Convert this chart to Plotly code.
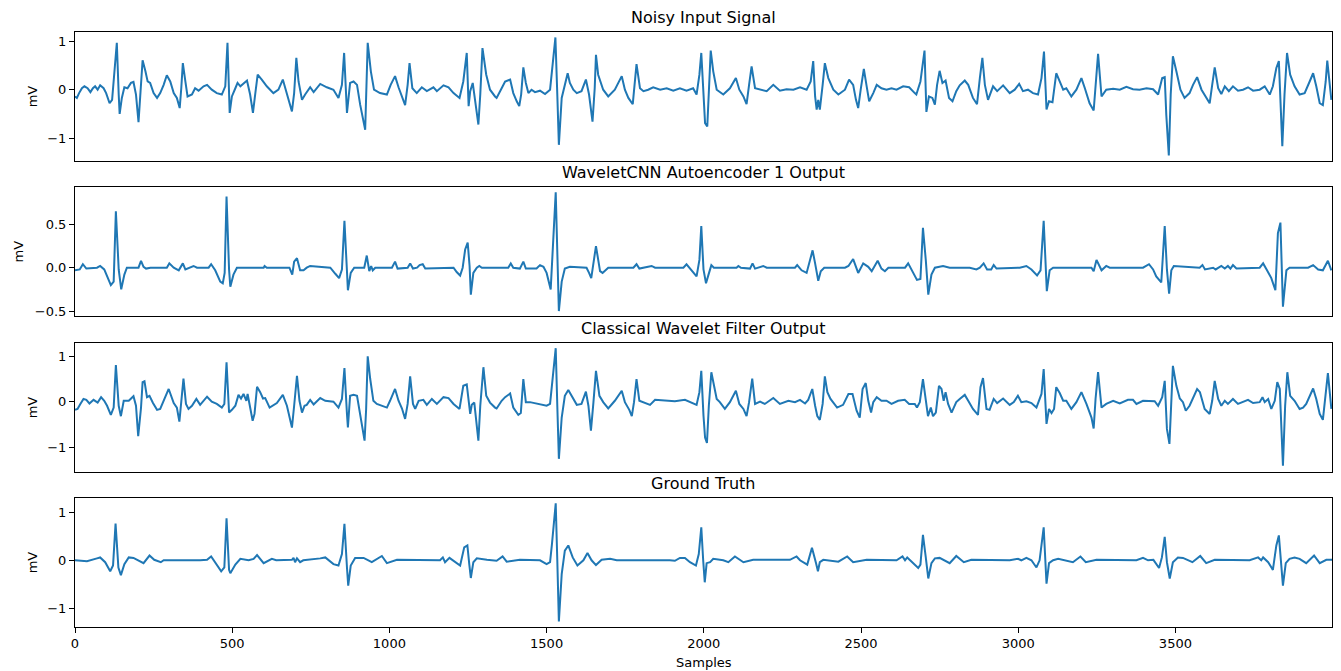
import plotly.graph_objects as go

# ---------------- data: (sample, mV) key points ----------------
noisy_points = [
    (0,-0.14),(6,-0.17),(13,-0.07),(22,0.03),(30,0.07),(40,0.03),(49,-0.05),(57,0.03),(64,0.07),(72,0),(80,0.09),(91,0.03),(99,-0.07),(110,-0.28),(118,-0.21),(125,0.38),(133,0.97),(139,-0.1),(142,-0.5),(149,-0.17),(157,0.05),(167,0.03),(178,0.14),(186,0.16),(194,-0.1),(202,-0.67),(208,-0.1),(215,0.61),(224,0.38),(231,0.17),(239,0.14),(250,-0.07),(261,-0.17),(271,-0.07),(282,0.1),(292,0.3),(303,0.17),(314,-0.07),(324,-0.17),(333,-0.38),(338,0.03),(343,0.55),(351,0.17),(358,-0.14),(372,-0.1),(382,0.03),(393,-0.02),(409,0.07),(420,0.1),(435,0),(451,-0.07),(467,-0.1),(478,0.07),(485,0.97),(492,-0.48),(499,-0.14),(510,0.03),(517,0.14),(526,0.07),(536,0.12),(547,0.19),(557,-0.1),(566,-0.48),(573,-0.1),(581,0.31),(594,0.21),(610,0.07),(631,-0.07),(647,0),(661,0.21),(674,-0.07),(690,-0.45),(697,-0.07),(704,0.66),(711,0.17),(722,-0.21),(732,-0.1),(748,0.05),(759,-0.05),(780,0.12),(801,0.05),(822,0),(838,-0.17),(849,0.1),(856,0.76),(865,-0.48),(875,0.14),(886,0.17),(897,0.1),(907,-0.31),(923,-0.83),(928,0.45),(931,0.97),(941,0.38),(951,0),(970,-0.07),(992,-0.1),(1004,0.1),(1018,0.28),(1029,0.05),(1040,-0.17),(1050,-0.32),(1058,0.1),(1064,0.55),(1073,0.03),(1087,-0.07),(1103,0.05),(1119,-0.03),(1140,0.05),(1151,-0.03),(1172,0.09),(1188,0.05),(1204,-0.07),(1223,-0.17),(1235,0.17),(1246,0.76),(1252,-0.34),(1257,-0.03),(1265,0.14),(1273,-0.24),(1283,-0.72),(1289,-0.1),(1296,0.86),(1308,0.31),(1320,0),(1336,-0.14),
    (1341,-0.17),(1357,0.03),(1368,0.17),(1384,0.21),(1394,-0.07),(1405,-0.24),(1413,-0.34),(1419,-0.1),(1426,0.46),(1434,0.14),(1442,-0.07),(1452,0),(1463,-0.05),(1479,-0.02),(1495,-0.09),(1511,0),(1521,0.59),(1528,1.08),(1534,-0.1),(1539,-1.14),(1548,-0.17),(1558,0.1),(1567,0.34),(1574,0.14),(1585,0),(1596,-0.07),(1611,-0.03),(1625,0.21),(1635,-0.1),(1646,-0.66),(1653,0.03),(1657,0.72),(1664,0.31),(1680,0),(1696,-0.14),(1717,0),(1739,0.28),(1749,0),(1760,-0.17),(1774,-0.3),(1780,0.17),(1786,0.53),(1797,0.03),(1808,-0.03),(1823,0),(1839,0.05),(1861,0),(1882,0.03),(1903,-0.02),(1924,0.03),(1945,-0.02),(1966,0.03),(1977,-0.1),(1986,0.31),(1992,0.76),(1998,-0.1),(2004,-0.69),(2011,-0.76),(2016,-0.1),(2022,0.81),(2030,0.38),(2041,0),(2062,-0.1),(2083,0.03),(2102,0.24),(2113,0),(2126,-0.14),(2136,-0.3),(2144,0.1),(2152,0.48),(2163,0.03),(2179,0),(2200,-0.03),(2221,0.1),(2242,-0.02),(2263,0.01),(2285,0),(2306,0.05),(2327,0),(2340,0.17),(2348,0.59),(2354,-0.14),(2359,-0.41),(2364,-0.21),(2369,-0.41),(2378,0.1),(2385,0.55),(2396,0.24),(2412,0),(2428,-0.1),(2449,0),(2462,0.21),(2475,0.1),(2484,-0.21),(2491,-0.38),(2499,0),(2509,0.43),(2518,0.07),(2526,-0.24),(2539,-0.07),(2550,0.1),(2565,0.03),(2581,0),(2597,0.03),(2613,0),(2634,0.07),(2653,0.05),(2671,-0.07),
    (2676,-0.1),(2689,0.17),(2702,0.81),(2708,-0.46),(2716,-0.14),(2727,-0.17),(2735,-0.31),(2742,0.1),(2750,0.39),(2759,0.14),(2769,0.19),(2780,-0.17),(2791,-0.24),(2803,-0.03),(2814,0.09),(2830,0.19),(2841,0.1),(2856,-0.17),(2869,-0.3),(2878,0.24),(2886,0.66),(2894,0.1),(2904,-0.21),(2920,0.07),(2933,-0.03),(2952,0.09),(2973,-0.07),(2989,0),(3003,0.12),(3015,-0.03),(3031,0),(3047,-0.07),(3063,-0.1),(3074,0.24),(3082,0.79),(3090,-0.41),(3098,-0.24),(3109,-0.26),(3121,0.34),(3132,0.17),(3143,0),(3153,0.03),(3169,-0.14),(3185,0),(3201,0.24),(3212,0.03),(3227,-0.28),(3240,-0.43),(3246,0.1),(3254,0.74),(3265,-0.14),(3280,0),(3302,0.02),(3323,0),(3344,0.06),(3365,0.01),(3386,0),(3408,0.03),(3429,0.01),(3445,-0.1),(3458,0.24),(3466,0.26),(3471,-0.52),(3479,-1.36),(3485,-0.1),(3492,0.69),(3503,0.38),(3516,0),(3529,-0.17),(3545,-0.07),(3556,0.1),(3569,0.26),(3583,0),(3598,-0.17),(3609,-0.28),(3617,0.1),(3625,0.46),(3636,0.03),(3646,-0.09),(3657,0.07),(3670,-0.03),(3683,0.07),(3699,-0.02),(3715,0),(3731,0.05),(3747,-0.02),(3768,0),(3784,0.07),(3800,-0.1),(3810,0.07),(3821,0.45),(3829,0.59),(3834,-0.1),(3840,-1.17),(3847,-0.1),(3855,0.76),(3865,0.31),(3879,0.07),(3895,-0.1),(3911,-0.07),(3927,0.17),(3938,0.34),(3948,0.07),(3959,-0.28),(3969,-0.32),(3978,0.17),(3983,0.6),(3991,0.17),(3996,-0.21),
]

cnn_points = [
    (0,-0.03),(15,-0.02),(25,0.04),(36,-0.01),(70,0),(80,0.02),(93,-0.02),(104,-0.12),(114,-0.2),(123,-0.16),(130,0.65),(139,-0.02),(147,-0.25),(157,-0.08),(165,0),(202,0),(210,0.08),(218,0.01),(226,-0.01),(240,0),(292,0),(300,0.05),(314,0),(330,-0.03),(343,0.05),(351,-0.02),(364,0),(377,0.02),(388,0),(425,0),(433,0.04),(446,-0.03),(462,-0.16),(470,-0.18),(476,-0.06),(482,0.82),(490,-0.02),(494,-0.22),(504,-0.08),(515,0),(600,0),(603,0.02),(610,0),(682,0),(691,-0.08),(697,0.07),(706,0.11),(716,-0.03),(727,-0.03),(737,0),(748,0.02),(812,0),(828,-0.07),(840,-0.12),(849,-0.02),(857,0.54),(865,-0.04),(868,-0.26),(877,-0.06),(888,0),(920,0),(928,0.14),(936,-0.04),(942,0.02),(947,-0.03),(955,0),(1008,0),(1018,0.07),(1026,-0.01),(1058,0),(1066,0.05),(1075,-0.01),(1088,0),(1096,0.03),(1106,0.04),(1114,-0.01),(1204,0),(1214,-0.05),(1225,-0.09),(1233,0),(1241,0.21),(1249,0.29),(1255,0.02),(1259,-0.31),(1267,-0.06),(1278,0),(1286,0.02),(1294,0),(1336,0),
    (1378,0),(1386,0.05),(1394,0),(1415,-0.01),(1426,0.07),(1434,-0.01),(1468,-0.01),(1479,0.03),(1490,0.01),(1500,-0.06),(1513,-0.25),(1529,0.87),(1539,-0.5),(1548,-0.16),(1558,-0.01),(1574,0.01),(1627,0),(1635,-0.06),(1642,-0.12),(1657,0.25),(1670,-0.04),(1678,-0.06),(1696,0),(1776,0),(1786,0.04),(1795,-0.01),(1834,0.02),(1845,0),(1935,0),(1945,0.04),(1961,-0.03),(1977,-0.1),(1986,0.09),(1992,0.48),(1999,-0.02),(2007,-0.18),(2015,-0.08),(2024,0.03),(2032,0),(2104,0),(2110,0.02),(2118,0),(2147,-0.01),(2155,0.05),(2163,-0.01),(2189,0.02),(2200,0),(2290,0),(2297,0.03),(2311,-0.03),(2327,-0.06),(2338,0.11),(2346,0.2),(2354,0.05),(2364,-0.15),(2372,-0.04),(2383,0),(2449,0),(2460,0.02),(2475,0.1),(2491,-0.06),(2507,0.05),(2523,0.01),(2534,-0.04),(2553,0.08),(2565,-0.01),(2576,-0.04),(2587,0),(2640,0),(2650,0.05),(2660,-0.02),(2671,-0.08),
    (2678,-0.14),(2689,-0.13),(2697,0.46),(2706,0.09),(2714,-0.31),(2724,-0.08),(2735,0),(2761,0.02),(2782,0),(2846,0),(2867,-0.02),(2878,0),(2890,0.05),(2901,-0.02),(2914,-0.02),(2922,0.03),(2931,-0.01),(3005,0),(3026,0.02),(3042,-0.02),(3060,-0.09),(3071,-0.03),(3081,0.54),(3091,-0.27),(3100,-0.03),(3111,0),(3233,0),(3240,-0.04),(3249,0.09),(3265,-0.03),(3280,0.02),(3291,0),(3397,0),(3416,0.04),(3429,-0.02),(3439,-0.1),(3455,-0.17),(3466,0.48),(3473,-0.02),(3480,-0.3),(3487,-0.03),(3495,0.02),(3524,0.01),(3577,0),(3586,0.03),(3594,-0.02),(3620,0),(3628,-0.02),(3646,0.02),(3657,-0.01),(3667,0.02),(3675,-0.01),(3683,0.03),(3694,-0.01),(3768,0),(3779,0.05),(3790,-0.02),(3805,-0.12),(3818,-0.26),(3826,0.4),(3834,0.52),(3839,-0.02),(3842,-0.45),(3853,-0.03),(3863,0),(3922,0),(3938,0.03),(3954,-0.02),(3969,-0.03),(3985,0.08),(3996,-0.03),
]

wavelet_points = [
    (0,-0.18),(8,-0.16),(17,-0.05),(27,0.06),(36,0.04),(46,-0.04),(59,0.04),(72,-0.02),(83,0.1),(93,0.02),(102,-0.09),(114,-0.29),(123,-0.13),(130,0.81),(139,-0.09),(146,-0.32),(155,0.02),(171,0.02),(186,0.12),(194,-0.09),(201,-0.76),(210,-0.13),(215,0.43),(221,0.45),(229,0.1),(237,0.13),(248,-0.03),(261,-0.18),(271,-0.16),(298,0.28),(314,-0.03),(324,-0.13),(332,-0.44),(338,0.02),(345,0.51),(353,-0.05),(361,-0.16),(372,-0.09),(386,0.06),(398,-0.07),(420,0.11),(435,0),(451,-0.05),(467,-0.13),(475,-0.05),(482,0.87),(490,-0.24),(499,-0.18),(510,-0.09),(520,0.15),(528,0.07),(536,0.17),(545,0.02),(549,0.17),(557,-0.09),(565,-0.42),(571,-0.27),(579,0.33),(589,0.21),(598,0.07),(605,0.08),(619,-0.13),(642,-0.03),(661,0.15),(674,-0.09),(690,-0.57),(697,-0.09),(706,0.57),(714,0.02),(722,-0.24),(730,-0.09),(737,-0.07),(748,0.04),(759,-0.06),(780,0.08),(796,0.02),(822,0),(838,-0.13),(849,0.06),(857,0.74),(865,-0.27),(868,-0.57),(875,0.13),(886,0.15),(897,0.13),(909,-0.38),(921,-0.86),(926,-0.16),(931,1.0),(939,0.5),(949,0.02),(960,-0.05),(976,-0.09),(992,-0.13),(1002,0.02),(1018,0.28),(1029,0.02),(1040,-0.15),(1050,-0.38),(1058,-0.05),(1066,0.56),(1075,-0.05),(1082,-0.16),(1093,0.02),(1108,0.04),(1119,-0.07),(1135,0.06),(1151,-0.05),(1172,0.1),(1188,0.08),(1204,-0.05),(1223,-0.16),(1235,0.35),(1246,0.38),(1257,-0.27),(1262,-0.07),(1270,-0.02),(1276,-0.38),(1283,-0.86),(1289,-0.09),(1299,0.76),(1308,0.13),(1320,-0.02),(1336,-0.13),
    (1341,-0.15),(1357,0.02),(1368,0.1),(1384,0.18),(1394,-0.13),(1410,-0.29),(1418,-0.25),(1426,0.5),(1434,-0.01),(1447,-0.01),(1479,-0.05),(1500,-0.09),(1511,-0.05),(1521,0.57),(1529,1.18),(1534,-0.09),(1539,-1.26),(1548,-0.35),(1558,0.13),(1569,0.26),(1580,0.13),(1596,-0.07),(1611,-0.05),(1625,0.22),(1633,-0.09),(1641,-0.64),(1649,-0.01),(1657,0.68),(1668,0.13),(1680,-0.01),(1696,-0.15),(1717,0.02),(1739,0.24),(1749,-0.01),(1763,-0.18),(1771,-0.32),(1778,-0.01),(1786,0.5),(1795,0.02),(1808,-0.01),(1829,-0.07),(1845,0.04),(1882,0.02),(1908,0.01),(1940,0.04),(1956,-0.01),(1977,-0.07),(1986,0.21),(1992,0.68),(1999,-0.31),(2004,-0.79),(2010,-0.91),(2016,-0.09),(2024,0.65),(2032,0.35),(2041,0.06),(2051,-0.01),(2067,-0.16),(2083,-0.01),(2102,0.24),(2113,-0.05),(2126,-0.16),(2136,-0.32),(2144,-0.01),(2154,0.51),(2163,-0.05),(2179,0),(2194,-0.05),(2221,0.08),(2242,-0.05),(2269,0.02),(2290,-0.01),(2306,0.04),(2322,-0.04),(2332,0.04),(2345,0.28),(2354,-0.09),(2361,-0.32),(2369,-0.4),(2378,-0.05),(2385,0.56),(2393,0.21),(2403,0.06),(2424,-0.13),(2443,-0.07),(2460,0.17),(2473,0.17),(2486,-0.2),(2496,-0.35),(2505,0.28),(2515,0.41),(2523,0.02),(2532,-0.24),(2539,-0.01),(2550,0.1),(2565,0.02),(2581,0.02),(2597,-0.05),(2618,0.02),(2639,0.04),(2653,-0.05),(2671,-0.05),
    (2678,-0.13),(2687,-0.01),(2697,0.5),(2706,0.06),(2713,-0.32),(2722,-0.13),(2729,-0.32),(2738,-0.24),(2748,0.35),(2756,0.28),(2763,0.02),(2769,0.21),(2777,-0.05),(2788,-0.24),(2803,-0.01),(2814,0.06),(2830,0.15),(2841,0.02),(2856,-0.16),(2872,-0.29),(2880,0.32),(2888,0.52),(2899,-0.16),(2909,-0.18),(2922,0.06),(2933,-0.03),(2952,0.07),(2973,-0.07),(2986,-0.01),(2999,0.13),(3010,-0.01),(3026,0.01),(3042,-0.03),(3058,-0.13),(3074,0.17),(3081,0.72),(3090,-0.49),(3098,-0.16),(3106,-0.25),(3114,-0.16),(3121,0.32),(3132,0.19),(3143,0.02),(3153,0.02),(3169,-0.16),(3185,-0.01),(3201,0.21),(3217,-0.05),(3233,-0.35),(3240,-0.59),(3246,0.06),(3254,0.65),(3265,-0.13),(3280,-0.05),(3302,0.02),(3323,-0.04),(3349,0.04),(3365,0.04),(3376,-0.05),(3397,0.02),(3434,0.01),(3445,-0.09),(3458,0.1),(3466,0.46),(3473,-0.6),(3481,-0.93),(3487,-0.09),(3492,0.79),(3503,0.35),(3514,0.07),(3524,-0.01),(3533,-0.2),(3545,-0.09),(3556,0.1),(3569,0.28),(3578,0.21),(3593,-0.16),(3609,-0.27),(3617,0.02),(3625,0.46),(3636,0.06),(3646,-0.09),(3657,0.02),(3667,-0.05),(3683,0.06),(3699,-0.05),(3715,-0.01),(3731,0.04),(3747,-0.03),(3768,-0.01),(3777,0.1),(3784,-0.01),(3795,0.06),(3805,-0.16),(3816,0.02),(3824,0.43),(3832,0.28),(3837,-0.46),(3842,-1.41),(3849,-0.09),(3856,0.65),(3865,0.13),(3879,0.02),(3895,-0.16),(3906,-0.13),(3916,-0.05),(3938,0.29),(3948,0.06),(3959,-0.27),(3969,-0.4),(3978,0.21),(3985,0.63),(3996,-0.16),
]

truth_points = [
    (0,0),(38,-0.02),(70,0.04),(80,0.06),(96,-0.04),(112,-0.23),(121,-0.11),(129,0.77),(138,-0.15),(146,-0.31),(157,-0.08),(171,0.06),(186,0.05),(218,-0.06),(237,0.10),(252,0.01),(273,-0.04),(282,0),(398,0),(420,0.01),(433,0.08),(446,-0.04),(465,-0.23),(475,-0.15),(482,0.88),(490,-0.2),(494,-0.27),(510,-0.09),(526,0.03),(552,0),(568,0.03),(579,0.11),(600,-0.06),(626,0.03),(640,0),(690,0.01),(695,0.05),(700,-0.04),(706,0.04),(716,-0.04),(726,0),(780,0.04),(796,0.06),(822,-0.08),(838,-0.11),(849,0.13),(857,0.76),(865,-0.15),(869,-0.53),(877,-0.11),(891,0.05),(918,0.05),(944,-0.04),(976,0.09),(992,-0.06),(1024,0.01),(1161,0),(1170,0.06),(1177,-0.04),(1191,0.05),(1209,-0.04),(1225,-0.11),(1238,0.27),(1248,0.31),(1254,-0.08),(1259,-0.37),(1267,-0.04),(1278,0.04),(1310,0.01),(1341,-0.01),(1360,0.08),(1373,-0.03),(1415,0.01),(1479,0),(1500,-0.08),(1511,-0.04),(1517,0.34),(1529,1.19),(1534,0),(1539,-1.28),(1548,-0.29),(1558,0.2),(1569,0.31),(1583,0.06),(1598,-0.11),(1617,0),(1630,0.15),(1643,0),(1657,-0.1),(1675,0.01),(1702,0.03),(1723,0),(1892,0),(1908,-0.01),(1924,0.05),(1940,0.05),(1956,-0.04),(1975,-0.11),(1984,0.13),(1992,0.69),(1998,0),(2003,-0.46),(2009,-0.06),(2020,-0.04),(2030,0.03),(2062,0),(2078,-0.04),(2099,0.08),(2126,-0.04),(2157,0.01),(2274,0.01),(2285,0.05),(2295,0.08),(2306,0),(2329,-0.09),(2344,0.26),(2350,0.13),(2357,-0.06),(2363,-0.23),(2369,-0.04),(2380,0.01),(2428,-0.03),(2456,0.08),(2475,-0.04),(2518,0.01),(2613,0),(2632,0.08),(2640,0),(2647,0.06),(2668,-0.08),(2682,-0.16),(2689,-0.09),(2697,0.53),(2706,0.06),(2714,-0.38),(2724,-0.06),(2735,0.04),(2750,0.05),(2782,-0.06),(2803,0.09),(2827,-0.04),(2851,0.01),(2973,0),(2999,0.03),(3010,0),(3026,0.05),(3042,0),(3058,-0.15),(3068,0),(3081,0.69),(3090,-0.49),(3098,-0.06),(3111,0),(3127,0.03),(3174,-0.04),(3198,0.08),(3215,-0.04),(3249,0.01),(3376,0),(3397,0.05),(3413,0),(3430,0.01),(3448,-0.16),(3457,0.06),(3466,0.49),(3473,-0.04),(3482,-0.38),(3492,-0.04),(3508,0.06),(3524,0.05),(3554,-0.04),(3579,0.09),(3598,-0.06),(3625,0.01),(3736,0),(3763,0.06),(3773,0),(3779,0.06),(3795,-0.04),(3810,-0.2),(3821,0.31),(3829,0.52),(3836,0),(3842,-0.53),(3851,-0.06),(3863,0.03),(3879,0.06),(3895,0.03),(3916,-0.06),(3941,0.1),(3959,-0.06),(3980,0.01),(3999,0.01),
]

panel_titles = ["Noisy Input Signal", "WaveletCNN Autoencoder 1 Output",
                "Classical Wavelet Filter Output", "Ground Truth"]
x_ticks = [0, 500, 1000, 1500, 2000, 2500, 3000, 3500]
y_ticks = [[-1, 0, 1], [-0.5, 0.0, 0.5], [-1, 0, 1], [-1, 0, 1]]
y_ranges = [[-1.468, 1.193], [-0.557, 0.931], [-1.544, 1.294], [-1.388, 1.302]]
x_range = [0, 3999]

# ---------------- figure ----------------
W, H = 1341, 671
LINE = "#1f77b4"
FONT = "DejaVu Sans"
panels_px = [(32, 160.7), (187, 316), (343, 471.7), (498, 626.7)]  # top, bottom in px
x_dom = [75 / W, 1332.3 / W]

fig = go.Figure()
series = [noisy_points, cnn_points, wavelet_points, truth_points]
for i, pts in enumerate(series):
    xs = [p[0] for p in pts]
    ys = [p[1] for p in pts]
    fig.add_trace(go.Scatter(x=xs, y=ys, mode="lines",
                             line=dict(color=LINE, width=2),
                             xaxis="x" if i == 0 else f"x{i+1}",
                             yaxis="y" if i == 0 else f"y{i+1}",
                             showlegend=False, hoverinfo="skip"))

layout = dict(width=W, height=H, margin=dict(l=0, r=0, t=0, b=0, pad=0, autoexpand=False),
              paper_bgcolor="white", plot_bgcolor="white",
              font=dict(family=FONT, size=13, color="black"),
              showlegend=False)
annotations = []
for i, (top, bot) in enumerate(panels_px):
    xa = "xaxis" if i == 0 else f"xaxis{i+1}"
    ya = "yaxis" if i == 0 else f"yaxis{i+1}"
    ydom = [1 - bot / H, 1 - top / H]
    last = (i == 3)
    layout[xa] = dict(domain=x_dom, range=x_range, anchor="y" if i == 0 else f"y{i+1}",
                      automargin=False,
                      showline=True, mirror=True, linecolor="black", linewidth=1,
                      showgrid=False, zeroline=False,
                      ticks="outside" if last else "", ticklen=5, tickwidth=1, tickcolor="black",
                      showticklabels=last, tickvals=x_ticks,
                      tickfont=dict(family=FONT, size=13, color="black"))
    yd = dict(domain=ydom, range=y_ranges[i], anchor="x" if i == 0 else f"x{i+1}",
              automargin=False,
              showline=True, mirror=True, linecolor="black", linewidth=1,
              showgrid=False, zeroline=False,
              ticks="outside", ticklen=5, tickwidth=1, tickcolor="black",
              tickvals=y_ticks[i], tickfont=dict(family=FONT, size=13, color="black"))
    if i == 1:
        yd["tickformat"] = ".1f"
    layout[ya] = yd
    # panel title
    annotations.append(dict(text=panel_titles[i], xref="paper", yref="paper",
                            x=(x_dom[0] + x_dom[1]) / 2, y=1 - (top - 14.5) / H,
                            xanchor="center", yanchor="middle", showarrow=False,
                            font=dict(family=FONT, size=16, color="black")))
    # y label
    lab_x = 18 if i == 1 else 32
    annotations.append(dict(text="mV", xref="paper", yref="paper",
                            x=lab_x / W, y=1 - ((top + bot) / 2) / H, textangle=-90,
                            xanchor="center", yanchor="middle", showarrow=False,
                            font=dict(family=FONT, size=13, color="black")))
annotations.append(dict(text="Samples", xref="paper", yref="paper",
                        x=(x_dom[0] + x_dom[1]) / 2, y=1 - 662 / H,
                        xanchor="center", yanchor="middle", showarrow=False,
                        font=dict(family=FONT, size=13, color="black")))
layout["annotations"] = annotations
fig.update_layout(**layout)
fig.write_html("out.html", config={"displayModeBar": False},
               post_script="document.body.style.margin='0';document.body.style.padding='0';document.body.style.overflow='hidden';")
